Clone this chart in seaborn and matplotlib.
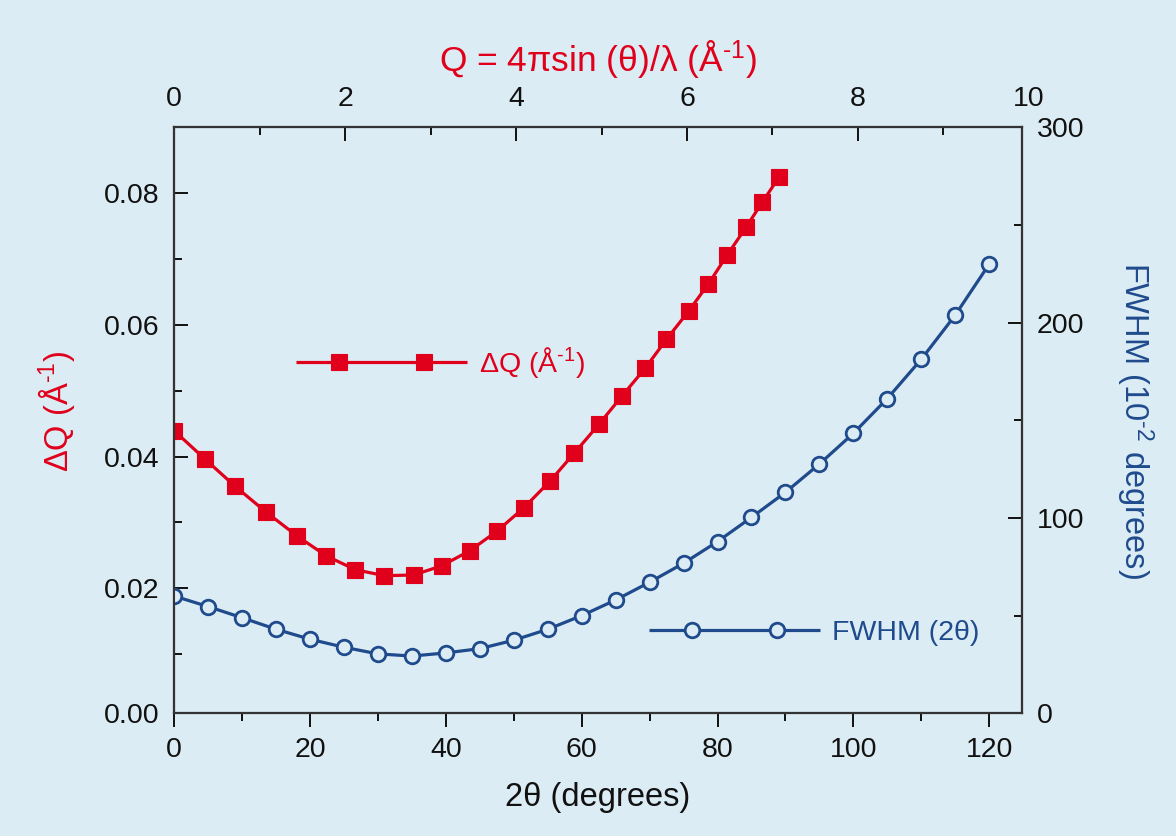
import matplotlib
matplotlib.use("Agg")
import matplotlib.pyplot as plt
from matplotlib.lines import Line2D
from matplotlib.legend_handler import HandlerBase
from matplotlib.ticker import MultipleLocator, FormatStrFormatter
import seaborn as sns

# Scattering angle grid (degrees) and instrumental peak width FWHM (10^-2 degrees)
two_theta = [0, 5, 10, 15, 20, 25, 30, 35, 40, 45, 50, 55, 60,
             65, 70, 75, 80, 85, 90, 95, 100, 105, 110, 115, 120]
fwhm = [60.0, 54.6, 48.9, 43.0, 37.9, 33.8, 30.4, 29.3, 30.9, 33.1, 37.4, 43.0, 50.0,
        58.0, 67.1, 76.8, 87.9, 100.3, 113.1, 127.6, 143.3, 161.1, 181.2, 203.8, 229.9]

# Momentum transfer Q (1/Å) of the same points and the resolution ΔQ (1/Å)
q_values = [0.00, 0.36, 0.71, 1.07, 1.44, 1.78, 2.12, 2.46, 2.80, 3.13, 3.46, 3.78, 4.09,
            4.40, 4.68, 4.97, 5.24, 5.51, 5.76, 6.02, 6.25, 6.47, 6.69, 6.88, 7.08]
delta_q = [0.0439, 0.0396, 0.0355, 0.0316, 0.0279, 0.0249, 0.0228, 0.0219, 0.0220, 0.0234,
           0.0257, 0.0287, 0.0322, 0.0363, 0.0405, 0.0449, 0.0492, 0.0534, 0.0578, 0.0621,
           0.0662, 0.0706, 0.0748, 0.0786, 0.0825]

BG = "#dcecf4"
RED = "#e1001b"
BLUE = "#1f4b8d"
INK = "#111111"
SPINE = "#333333"

sns.set_theme(style="ticks")
plt.rcParams["font.family"] = ["Liberation Sans", "DejaVu Sans"]
plt.rcParams.update({
    "mathtext.fontset": "custom",
    "mathtext.rm": "Liberation Sans",
    "mathtext.it": "Liberation Sans:italic",
    "mathtext.bf": "Liberation Sans:bold",
})

TICK_FS = 20.5
LABEL_FS = 23.5
# short hyphen (U+2010) in the exponents instead of a wide minus sign
INV_A = "Å$^{\\mathregular{\u20101}}$"
CENTI = "10$^{\\mathregular{\u20102}}$"

fig = plt.figure(figsize=(11.76, 8.36), dpi=100, facecolor=BG)
ax = fig.add_axes([0.1482, 0.1468, 0.7206, 0.7009])
ax.set_facecolor(BG)
ax_top = ax.twiny()     # Q scale on top, shares the ΔQ axis
ax_right = ax.twinx()   # FWHM scale on the right, shares the 2θ axis

sns.lineplot(x=q_values, y=delta_q, ax=ax_top, color=RED, linewidth=2.3,
             marker="s", markersize=11, markeredgewidth=0.8,
             markeredgecolor=RED, markerfacecolor=RED, errorbar=None)
sns.lineplot(x=two_theta, y=fwhm, ax=ax_right, color=BLUE, linewidth=2.3,
             marker="o", markersize=10.5, markeredgewidth=2.0,
             markeredgecolor=BLUE, markerfacecolor=BG, errorbar=None)

ax.set_xlim(0, 124.8)
ax.set_ylim(0.001, 0.09)
ax_top.set_xlim(0, 9.917)
ax_right.set_ylim(0, 300)

ax.xaxis.set_major_locator(MultipleLocator(20))
ax.xaxis.set_minor_locator(MultipleLocator(10))
ax.yaxis.set_major_locator(MultipleLocator(0.02))
ax.yaxis.set_minor_locator(MultipleLocator(0.01))
ax.yaxis.set_major_formatter(FormatStrFormatter("%.2f"))
ax_top.xaxis.set_major_locator(MultipleLocator(2))
ax_top.xaxis.set_minor_locator(MultipleLocator(1))
ax_right.yaxis.set_major_locator(MultipleLocator(100))
ax_right.yaxis.set_minor_locator(MultipleLocator(50))

common = dict(colors=INK, width=1.4, labelsize=TICK_FS, labelcolor=INK)
ax.tick_params(axis="x", which="major", direction="out", length=10, pad=7, **common)
ax.tick_params(axis="x", which="minor", direction="out", length=5.5, **common)
ax.tick_params(axis="y", which="major", direction="in", length=10, pad=11, **common)
ax.tick_params(axis="y", which="minor", direction="in", length=5.5, **common)
ax_top.tick_params(axis="x", which="major", direction="in", length=10, pad=11, **common)
ax_top.tick_params(axis="x", which="minor", direction="in", length=5.5, **common)
ax_right.tick_params(axis="y", which="major", direction="in", length=10, pad=11, **common)
ax_right.tick_params(axis="y", which="minor", direction="in", length=5.5, **common)

for a in (ax, ax_top, ax_right):
    a.grid(False)
    for sp in a.spines.values():
        sp.set_visible(True)
        sp.set_color(SPINE)
        sp.set_linewidth(1.5)

# end labels sitting on the frame corners
ax_top.annotate("10", xy=(10, 1), xycoords=("data", "axes fraction"),
                xytext=(0, 11), textcoords="offset points", ha="center", va="bottom",
                fontsize=TICK_FS, color=INK, annotation_clip=False)
ax.annotate("0.00", xy=(0, 0), xycoords="axes fraction",
            xytext=(-11, 0), textcoords="offset points", ha="right", va="center_baseline",
            fontsize=TICK_FS, color=INK, annotation_clip=False)

# axis titles
ax.set_xlabel("2θ (degrees)", fontsize=LABEL_FS, color=INK)
ax.xaxis.set_label_coords(0.5, -0.143)
ax.xaxis.label.set_va("center")

ax_top.set_xlabel(f"Q = 4πsin (θ)/λ ({INV_A})", fontsize=25.5, color=RED)
ax_top.xaxis.set_label_coords(0.5, 1.115)
ax_top.xaxis.label.set_va("center")

ax.set_ylabel(f"ΔQ ({INV_A})", fontsize=LABEL_FS, color=RED)
ax.yaxis.set_label_coords(-0.1384, 0.515)
ax.yaxis.label.set_ha("center")
ax.yaxis.label.set_va("center")

ax_right.set_ylabel(f"FWHM ({CENTI} degrees)", fontsize=LABEL_FS,
                    color=BLUE, rotation=270)
ax_right.yaxis.set_label_coords(1.1337, 0.5)
ax_right.yaxis.label.set_ha("center")
ax_right.yaxis.label.set_va("center")


class PairMarkerHandler(HandlerBase):
    """Legend key: a full-width line carrying two markers at 1/4 and 3/4."""

    def create_artists(self, legend, orig_handle, xdescent, ydescent, width,
                       height, fontsize, trans):
        y = height / 2 - ydescent
        x0 = -xdescent
        line = Line2D([x0, x0 + width], [y, y], color=orig_handle.get_color(),
                      linewidth=orig_handle.get_linewidth(), solid_capstyle="butt")
        marks = Line2D([x0 + 0.25 * width, x0 + 0.75 * width], [y, y], linestyle="none",
                       marker=orig_handle.get_marker(),
                       markersize=orig_handle.get_markersize(),
                       markerfacecolor=orig_handle.get_markerfacecolor(),
                       markeredgecolor=orig_handle.get_markeredgecolor(),
                       markeredgewidth=orig_handle.get_markeredgewidth())
        line.set_transform(trans)
        marks.set_transform(trans)
        return [line, marks]


red_line = ax_top.get_lines()[0]
blue_line = ax_right.get_lines()[0]
leg_kw = dict(loc="center left", frameon=False, borderpad=0, borderaxespad=0,
              handlelength=6.0, handletextpad=0.42, fontsize=TICK_FS)

leg_red = ax_right.legend([red_line], [f"ΔQ ({INV_A})"], bbox_to_anchor=(0.1436, 0.599),
                          handler_map={red_line: PairMarkerHandler()}, labelcolor=RED, **leg_kw)
ax_right.add_artist(leg_red)
ax_right.legend([blue_line], ["FWHM (2θ)"], bbox_to_anchor=(0.5605, 0.1365),
                handler_map={blue_line: PairMarkerHandler()}, labelcolor=BLUE, **leg_kw)

fig.savefig("out.png", dpi=100, facecolor=BG)
